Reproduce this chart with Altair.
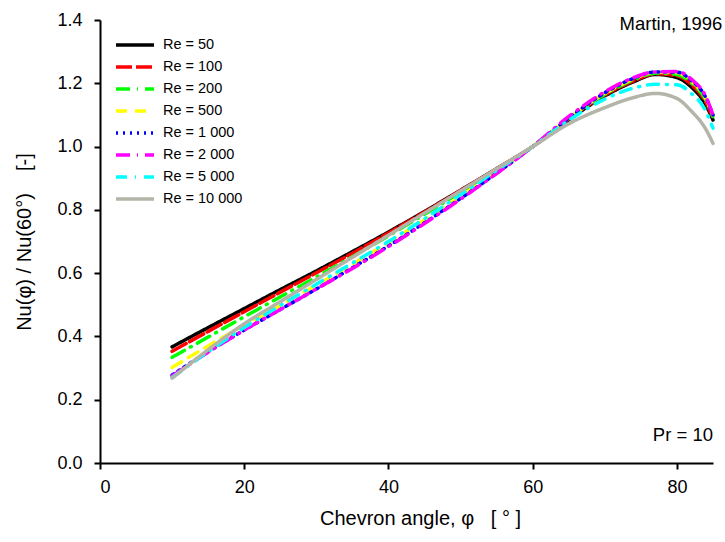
import altair as alt
import pandas as pd

# Chevron angle samples (degrees)
angles = [10, 15, 20, 25, 30, 35, 40, 45, 50, 55, 60, 65, 70, 74, 77, 80, 82, 84, 85]

re_labels = ["Re = 50", "Re = 100", "Re = 200", "Re = 500",
             "Re = 1 000", "Re = 2 000", "Re = 5 000", "Re = 10 000"]

re50 = [0.367, 0.428, 0.488, 0.548, 0.607, 0.668, 0.730, 0.795, 0.862, 0.930, 1.000,
        1.085, 1.160, 1.205, 1.228, 1.218, 1.188, 1.132, 1.084]
re100 = [0.353, 0.416, 0.478, 0.540, 0.601, 0.663, 0.727, 0.793, 0.861, 0.930, 1.000,
         1.087, 1.163, 1.208, 1.230, 1.224, 1.196, 1.140, 1.090]
re200 = [0.334, 0.398, 0.462, 0.525, 0.588, 0.652, 0.718, 0.786, 0.856, 0.928, 1.000,
         1.088, 1.165, 1.211, 1.232, 1.228, 1.201, 1.147, 1.095]
re500 = [0.302, 0.370, 0.435, 0.498, 0.562, 0.628, 0.697, 0.768, 0.843, 0.920, 1.000,
         1.090, 1.168, 1.214, 1.235, 1.233, 1.207, 1.152, 1.100]
re1000 = [0.278, 0.352, 0.420, 0.485, 0.550, 0.617, 0.686, 0.759, 0.836, 0.916, 1.000,
          1.090, 1.170, 1.216, 1.236, 1.235, 1.209, 1.155, 1.100]
re2000 = [0.275, 0.350, 0.420, 0.485, 0.550, 0.615, 0.684, 0.757, 0.834, 0.915, 1.000,
          1.095, 1.173, 1.218, 1.236, 1.237, 1.213, 1.158, 1.100]
re5000 = [0.270, 0.352, 0.428, 0.498, 0.565, 0.632, 0.700, 0.772, 0.848, 0.925, 1.000,
          1.083, 1.150, 1.185, 1.197, 1.195, 1.168, 1.112, 1.058]
re10000 = [0.268, 0.358, 0.440, 0.510, 0.580, 0.650, 0.720, 0.790, 0.860, 0.930, 1.000,
           1.072, 1.123, 1.155, 1.168, 1.152, 1.112, 1.055, 1.010]

series = [re50, re100, re200, re500, re1000, re2000, re5000, re10000]

colors = ["#000000", "#ff0000", "#00ff00", "#ffff00",
          "#0000ff", "#ff00ff", "#00ffff", "#b4b4a8"]
dashes = [[1, 0], [16, 4], [14, 7, 1, 7], [11, 8],
          [2, 5], [14, 7, 1, 7], [11, 8, 1, 8], [1, 0]]

note_text = ["Martin, 1996", "Pr = 10"]
note_x = [86.3, 85.0]
note_y = [1.387, 0.088]

NB = "\u00a0"
x_title = "Chevron angle, φ" + NB * 3 + "[" + NB + "°" + NB + "]"
y_title = "Nu(φ)" + NB + "/" + NB + "Nu(60°)" + NB * 4 + "[-]"

rows = []
for order, (lab, vals) in enumerate(zip(re_labels, series)):
    for a, v in zip(angles, vals):
        rows.append({"Re": lab, "order": order, "phi": a, "ratio": v})
df = pd.DataFrame(rows)

notes = pd.DataFrame({"x": note_x, "y": note_y, "t": note_text})

FONT = "Liberation Sans"

xscale = alt.Scale(domain=[0, 85], nice=False, zero=False)
yscale = alt.Scale(domain=[0, 1.4], nice=False)

lines = alt.Chart(df).mark_line(strokeWidth=3.5, strokeCap="round",
                                interpolate="monotone").encode(
    x=alt.X("phi:Q", scale=xscale,
            axis=alt.Axis(title=x_title, values=[0, 20, 40, 60, 80], format="d",
                          titleX=320, titleAlign="center")),
    y=alt.Y("ratio:Q", scale=yscale,
            axis=alt.Axis(title=y_title,
                          values=[0, 0.2, 0.4, 0.6, 0.8, 1.0, 1.2, 1.4], format=".1f")),
    color=alt.Color("Re:N", sort=re_labels,
                    scale=alt.Scale(domain=re_labels, range=colors),
                    legend=alt.Legend(title=None, orient="none", legendX=14, legendY=17,
                                      symbolType="stroke", symbolSize=1444,
                                      symbolStrokeWidth=3.5, clipHeight=16,
                                      rowPadding=6, labelFontSize=14.5, labelFont=FONT,
                                      labelColor="#000000", labelOffset=7)),
    strokeDash=alt.StrokeDash("Re:N", sort=re_labels,
                              scale=alt.Scale(domain=re_labels, range=dashes)),
    order=alt.Order("order:Q"),
    detail="Re:N",
)

text = alt.Chart(notes).mark_text(align="right", baseline="middle", fontSize=18.5,
                                  font=FONT, color="#000000").encode(
    x=alt.X("x:Q", scale=xscale),
    y=alt.Y("y:Q", scale=yscale),
    text="t:N",
)

chart = alt.layer(lines, text).properties(
    width=613, height=443,
    autosize=alt.AutoSizeParams(type="none"),
    padding={"left": 100, "top": 20, "right": 12, "bottom": 79},
).configure_view(stroke=None).configure_axis(
    grid=False, domainColor="#000000", domainWidth=2, tickColor="#000000",
    tickWidth=2, tickSize=6, labelFont=FONT, labelFontSize=18, labelColor="#000000",
    titleFont=FONT, titleFontSize=20, titleFontWeight="normal", titleColor="#000000",
).configure_axisX(labelPadding=9, titlePadding=12).configure_axisY(
    labelPadding=12, titlePadding=22)

chart.save("out.html", embed_options={"renderer": "svg", "actions": False})
